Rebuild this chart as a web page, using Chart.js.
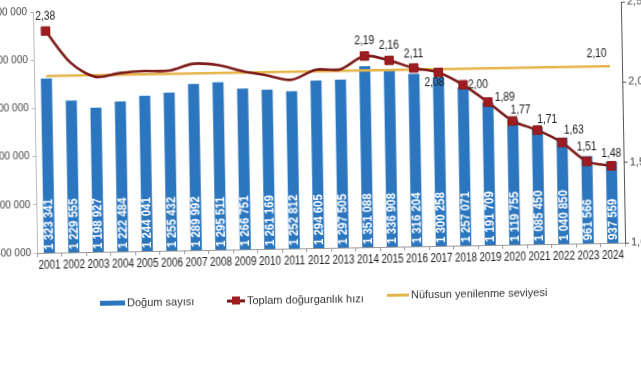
<!DOCTYPE html>
<html>
<head>
<meta charset="utf-8">
<script src="https://cdn.jsdelivr.net/npm/chart.js@4.4.1/dist/chart.umd.min.js"></script>
<style>
html, body { margin: 0; padding: 0; background: #fff; width: 641px; height: 380px; overflow: hidden; }
#wrap { position: absolute; left: -20px; top: 0; width: 680px; height: 380px;
        transform: rotate(-1deg); transform-origin: 340px 127px; }
#legend { position: absolute; left: 0; top: 292px; font: 11px "Liberation Sans", Arial, sans-serif; color: #333; }
.item { position: absolute; top: 0; white-space: nowrap; display: flex; align-items: center; height: 14px; }
.sw-bar { width: 25px; height: 5px; background: #2b76bf; margin-right: 2px; }
.sw-line { position: relative; width: 18px; height: 3px; background: #7d1b1b; margin-right: 2px; }
.sw-line i { position: absolute; left: 5px; top: -3px; width: 8px; height: 8px; background: #9e1c20; }
.sw-yel { width: 22px; height: 3px; background: #e6b54c; margin-right: 2px; }
</style>
</head>
<body>
<div id="wrap">
	<canvas id="c" width="680" height="380"></canvas>
	<div id="legend">
		<div class="item" style="left:117px"><span class="sw-bar"></span>Doğum sayısı</div>
		<div class="item" style="left:244px"><span class="sw-line"><i></i></span>Toplam doğurganlık hızı</div>
		<div class="item" style="left:404px;top:-3px"><span class="sw-yel"></span>Nüfusun yenilenme seviyesi</div>
	</div>
</div>
<script>
// data
const years = ['2001','2002','2003','2004','2005','2006','2007','2008','2009','2010','2011','2012',
	'2013','2014','2015','2016','2017','2018','2019','2020','2021','2022','2023','2024'];

const births = [1323341, 1229555, 1198927, 1222484, 1244041, 1255432, 1289992, 1295511,
	1266751, 1261169, 1252812, 1294605, 1297505, 1351088, 1336908, 1316204,
	1300258, 1257071, 1191709, 1119755, 1085450, 1040850, 961566, 937559];

const fertility = [2.38, 2.18, 2.09, 2.11, 2.12, 2.12, 2.16, 2.15, 2.11, 2.08, 2.05, 2.11,
	2.11, 2.19, 2.16, 2.11, 2.08, 2.00, 1.89, 1.77, 1.71, 1.63, 1.51, 1.48];

const replacement = [2.10, 2.10, 2.10, 2.10, 2.10, 2.10, 2.10, 2.10, 2.10, 2.10, 2.10, 2.10,
	2.10, 2.10, 2.10, 2.10, 2.10, 2.10, 2.10, 2.10, 2.10, 2.10, 2.10, 2.10];

const sans = '"Liberation Sans", Arial, sans-serif';
Chart.defaults.font.family = sans;

function spaced(n) {
	return String(Math.round(n)).replace(/\B(?=(\d{3})+(?!\d))/g, ' ');
}
function comma(v, d) {
	return v.toFixed(d).replace('.', ',');
}

// draw a string squeezed horizontally, the source uses a narrow face
function narrowText(ctx, txt, x, y, sx) {
	ctx.save();
	ctx.translate(x, y);
	ctx.scale(sx, 1);
	ctx.fillText(txt, 0, 0);
	ctx.restore();
}

// which fertility points carry a marker + label, and where the label sits (dx, dy)
const fertLabelAt = {
	0: [0, -15], 13: [0, -15], 14: [0, -15], 15: [0, -14], 16: [-4, 10], 17: [15, 0],
	18: [17, -5], 19: [8, -11], 20: [10, -11], 21: [12, -12], 22: [0, -15], 23: [0, -12]
};

const labelPlugin = {
	id: 'valueLabels',
	afterDatasetsDraw(chart) {
		const ctx = chart.ctx;
		const xs = chart.scales.x;
		const bottom = chart.chartArea.bottom;

		// vertical white numbers inside the bars
		ctx.save();
		ctx.fillStyle = '#ffffff';
		ctx.font = 'bold 12px ' + sans;
		ctx.textAlign = 'left';
		ctx.textBaseline = 'middle';
		births.forEach(function (v, i) {
			const x = xs.getPixelForValue(i);
			ctx.save();
			ctx.translate(x, bottom - 3);
			ctx.rotate(-Math.PI / 2);
			ctx.scale(0.95, 1);
			ctx.fillText(spaced(v), 0, 0.5);
			ctx.restore();
		});
		ctx.restore();

		// fertility values
		const pts = chart.getDatasetMeta(1).data;
		ctx.save();
		ctx.fillStyle = '#1a1a1a';
		ctx.font = '13px ' + sans;
		ctx.textAlign = 'center';
		ctx.textBaseline = 'middle';
		Object.keys(fertLabelAt).forEach(function (k) {
			const p = pts[k];
			const off = fertLabelAt[k];
			narrowText(ctx, comma(fertility[k], 2), p.x + off[0], p.y + off[1], 0.8);
		});
		// replacement level label at the end of the line
		const yl = chart.getDatasetMeta(2).data;
		const last = yl[yl.length - 1];
		narrowText(ctx, comma(replacement[replacement.length - 1], 2), last.x - 13, last.y - 13, 0.8);
		ctx.restore();

		// year labels under the axis
		ctx.save();
		ctx.fillStyle = '#1a1a1a';
		ctx.font = '12px ' + sans;
		ctx.textAlign = 'center';
		ctx.textBaseline = 'middle';
		years.forEach(function (y, i) {
			narrowText(ctx, y, xs.getPixelForValue(i), bottom + 13, 0.82);
		});
		ctx.restore();
	}
};

const pointSizes = fertility.map(function (v, i) { return (i in fertLabelAt) ? 6 : 0; });

new Chart(document.getElementById('c'), {
	type: 'bar',
	data: {
		labels: years,
		datasets: [
			{
				label: 'Doğum sayısı',
				data: births,
				backgroundColor: '#2b76bf',
				barPercentage: 0.45,
				categoryPercentage: 1,
				yAxisID: 'y',
				order: 3
			},
			{
				type: 'line',
				label: 'Toplam doğurganlık hızı',
				data: fertility,
				borderColor: '#7d1b1b',
				borderWidth: 2.6,
				tension: 0.3,
				pointStyle: 'rect',
				pointRadius: pointSizes,
				pointBackgroundColor: '#9e1c20',
				pointBorderColor: '#8a1a1c',
				pointBorderWidth: 1,
				yAxisID: 'y1',
				order: 1
			},
			{
				type: 'line',
				label: 'Nüfusun yenilenme seviyesi',
				data: replacement,
				borderColor: '#e6b54c',
				borderWidth: 2.5,
				pointRadius: 0,
				yAxisID: 'y1',
				order: 2
			}
		]
	},
	options: {
		responsive: false,
		animation: false,
		layout: { padding: { top: 6, left: 0, right: 0, bottom: 0 } },
		plugins: {
			legend: { display: false },
			tooltip: { enabled: false }
		},
		scales: {
			x: {
				grid: { display: true, drawOnChartArea: false, tickLength: 4, color: '#999' },
				border: { color: '#999' },
				ticks: { display: false },
				afterFit(s) { s.height = 132; }
			},
			y: {
				position: 'left',
				min: 600000,
				max: 1600000,
				grid: { drawOnChartArea: false, tickLength: 3, color: '#bbb' },
				border: { color: '#bbb' },
				ticks: { stepSize: 200000, color: '#444', font: { size: 10 }, padding: 3,
					callback: function (v) { return spaced(v); } },
				afterFit(s) { s.width = 55; s.paddingTop = 0; s.paddingBottom = 0; }
			},
			y1: {
				position: 'right',
				min: 1.0,
				max: 2.5,
				grid: { drawOnChartArea: false, tickLength: 4, color: '#555' },
				border: { color: '#555' },
				ticks: { stepSize: 0.5, color: '#444', font: { size: 11 }, padding: 2,
					callback: function (v) { return comma(v, 1); } },
				afterFit(s) { s.width = 37; s.paddingTop = 0; s.paddingBottom = 0; }
			}
		}
	},
	plugins: [labelPlugin]
});
</script>
</body>
</html>
